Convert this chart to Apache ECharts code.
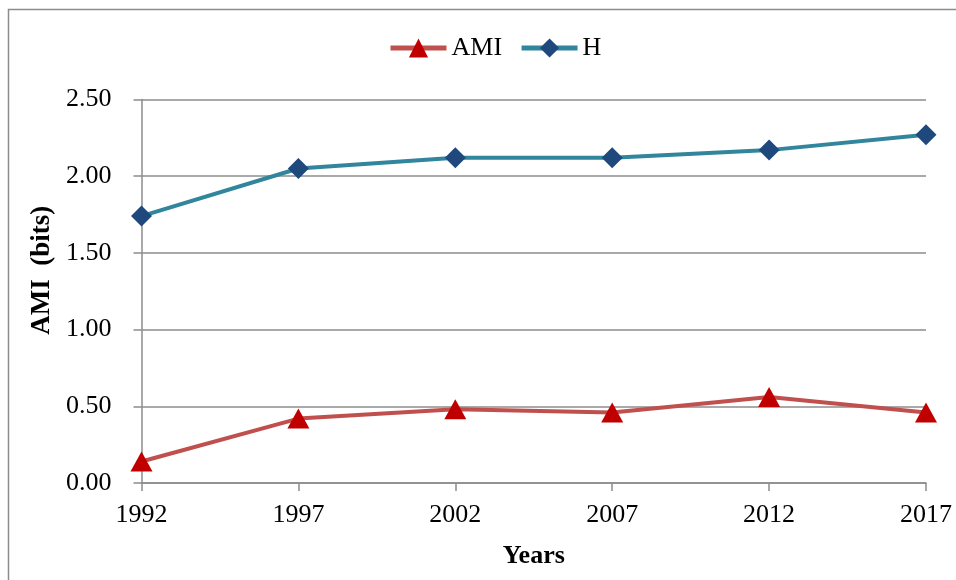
<!DOCTYPE html>
<html>
<head>
<meta charset="utf-8">
<script src="https://cdn.jsdelivr.net/npm/echarts@6/dist/echarts.min.js"></script>
<style>
  html, body { margin: 0; padding: 0; background: #fff; }
  #chart { width: 956px; height: 580px; }
</style>
</head>
<body>
<div id="chart"></div>
<script>
const years = ['1992', '1997', '2002', '2007', '2012', '2017'];
const amiValues = [0.14, 0.42, 0.48, 0.46, 0.56, 0.46];
const hValues = [1.74, 2.05, 2.12, 2.12, 2.17, 2.27];
const yTicks = { min: 0, max: 2.5, interval: 0.5 };

const font = '"Liberation Serif", "Times New Roman", serif';
const myChart = echarts.init(document.getElementById('chart'));

const option = {
    backgroundColor: '#fff',
    animation: false,
    textStyle: { fontFamily: font },
    graphic: [{
        type: 'rect',
        shape: { x: 8.5, y: 9.5, width: 1000, height: 1000 },
        style: { fill: 'none', stroke: '#8c8c8c', lineWidth: 1.5 },
        silent: true
    }],
    legend: {
        top: 35,
        left: 388,
        padding: 0,
        itemWidth: 56,
        itemHeight: 24,
        itemGap: 17,
        lineStyle: { width: 5 },
        textStyle: { fontFamily: font, fontSize: 26, color: '#000' },
        data: ['AMI', 'H']
    },
    grid: {
        left: 141.5,
        right: 30,
        top: 99.5,
        bottom: 97,
        containLabel: false
    },
    xAxis: {
        type: 'category',
        boundaryGap: false,
        data: years,
        name: 'Years',
        nameLocation: 'middle',
        nameGap: 60,
        nameTextStyle: { fontFamily: font, fontSize: 26, fontWeight: 'bold', color: '#000' },
        axisLine: { lineStyle: { color: '#8c8c8c', width: 1.5 } },
        axisTick: { alignWithLabel: true, length: 8, lineStyle: { color: '#8c8c8c', width: 1.5 } },
        axisLabel: { fontFamily: font, fontSize: 26, color: '#000', margin: 19 },
        splitLine: { show: false }
    },
    yAxis: {
        type: 'value',
        min: yTicks.min,
        max: yTicks.max,
        interval: yTicks.interval,
        name: 'AMI  (bits)',
        nameLocation: 'middle',
        nameGap: 83,
        nameTextStyle: {
            fontFamily: font, fontSize: 27, fontWeight: 'bold', color: '#000',
            padding: [0, 0, 0, 42]
        },
        axisLine: { show: true, lineStyle: { color: '#8c8c8c', width: 1.5 } },
        axisTick: { show: true, length: 8, lineStyle: { color: '#8c8c8c', width: 1.5 } },
        axisLabel: {
            fontFamily: font, fontSize: 26, color: '#000', margin: 30,
            formatter: v => v.toFixed(2)
        },
        splitLine: { show: true, lineStyle: { color: '#8c8c8c', width: 1.5 } }
    },
    series: [{
        name: 'AMI',
        type: 'line',
        data: amiValues,
        symbol: 'triangle',
        symbolSize: [22, 20],
        lineStyle: { color: '#c0504d', width: 4 },
        itemStyle: { color: '#c00000' }
    }, {
        name: 'H',
        type: 'line',
        data: hValues,
        symbol: 'diamond',
        symbolSize: [21, 21],
        lineStyle: { color: '#31859c', width: 4 },
        itemStyle: { color: '#1f497d' }
    }]
};

myChart.setOption(option);
</script>
</body>
</html>
